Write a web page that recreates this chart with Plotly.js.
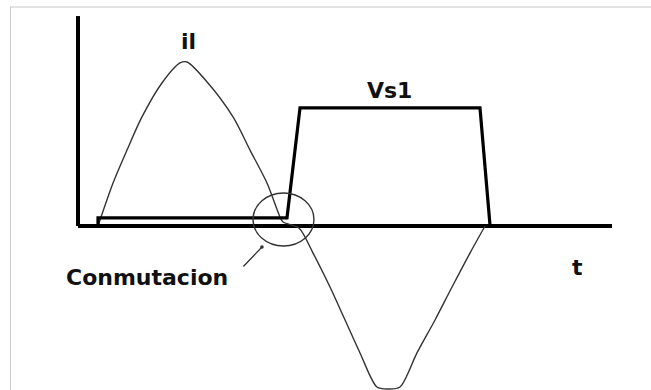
<!DOCTYPE html>
<html>
<head>
<meta charset="utf-8">
<script src="https://cdn.plot.ly/plotly-3.0.1.min.js"></script>
<style>
  html, body { margin: 0; padding: 0; background: #fff; }
  #chart { width: 651px; height: 390px; }
</style>
</head>
<body>
<div id="chart"></div>
<script>
// Angle (degrees of one period) and normalized amplitude
var ilAngle = [0, 14.0, 27.0, 40.9, 59.5, 76.3, 82.8, 102.3, 125.6, 141.4, 157.2, 169.3, 172.1, 186.9,
               200, 215.8, 229.8, 243.7, 259.5, 269.8, 280.9, 296.7, 313.5, 329.3, 346, 360];
var ilValue = [0, 0.262, 0.463, 0.665, 0.872, 0.994, 1.0, 0.872, 0.665, 0.463, 0.262, 0.055, 0.024, -0.012,
               -0.165, -0.372, -0.573, -0.774, -0.982, -0.994, -0.982, -0.774, -0.573, -0.372, -0.165, 0];

var vsAngle = [0, 0, 175.8, 187.9, 355.3, 364.7];
var vsValue = [0, 0.05, 0.05, 0.72, 0.72, 0];

var axisTop = 1.28;            // top of the drawn vertical axis
var commCircle = {x0: 144.2, x1: 200.9, y0: -0.122, y1: 0.201};

var labels = [
  {text: 'il', x: 84.6, y: 1.128},
  {text: 'Vs1', x: 271.6, y: 0.829},
  {text: 'Conmutacion', x: 45.6, y: -0.317},
  {text: 't', x: 445.6, y: -0.25}
];

var traces = [
  {x: ilAngle, y: ilValue, type: 'scatter', mode: 'lines',
   line: {color: '#333333', width: 1.4, shape: 'spline', smoothing: 0.8},
   hoverinfo: 'skip', showlegend: false},
  {x: vsAngle, y: vsValue, type: 'scatter', mode: 'lines',
   line: {color: '#000000', width: 3.2},
   hoverinfo: 'skip', showlegend: false}
];

var annotations = labels.map(function (l) {
  return {text: '<b>' + l.text + '</b>', x: l.x, y: l.y, xref: 'x', yref: 'y',
          showarrow: false, xanchor: 'center', yanchor: 'middle',
          font: {family: 'DejaVu Sans', size: 22, color: '#111111'}};
});
// pointer from label to commutation circle
annotations.push({text: '', x: 152.5, y: -0.128, xref: 'x', yref: 'y',
                  showarrow: true, ax: -20, ay: 21, arrowhead: 6, arrowsize: 0.7,
                  arrowwidth: 1.3, arrowcolor: '#333333'});

var layout = {
  width: 651, height: 390,
  margin: {l: 78, r: 39, t: 0, b: 0, pad: 0},
  paper_bgcolor: '#ffffff', plot_bgcolor: '#ffffff',
  showlegend: false,
  xaxis: {range: [-18.6, 478.1], showgrid: false, zeroline: false, showticklabels: false,
          ticks: '', showline: false, fixedrange: true},
  yaxis: {range: [-1.0, 1.378], showgrid: false, zeroline: true, zerolinecolor: '#000000',
          zerolinewidth: 4, showticklabels: false, ticks: '', showline: false, fixedrange: true},
  shapes: [
    // light frame of the picture
    {type: 'line', xref: 'paper', yref: 'paper', x0: -0.1273, x1: 1.08, y0: 0.982, y1: 0.982,
     line: {color: '#c8c8c8', width: 1}},
    {type: 'line', xref: 'paper', yref: 'paper', x0: -0.1264, x1: -0.1264, y0: -0.01, y1: 0.982,
     line: {color: '#c8c8c8', width: 1}},
    // vertical axis
    {type: 'line', xref: 'paper', yref: 'y', x0: 0, x1: 0, y0: 0, y1: axisTop,
     line: {color: '#000000', width: 4}},
    // commutation circle
    {type: 'circle', xref: 'x', yref: 'y', x0: commCircle.x0, x1: commCircle.x1,
     y0: commCircle.y0, y1: commCircle.y1, line: {color: '#333333', width: 1.4}}
  ],
  annotations: annotations
};

Plotly.newPlot('chart', traces, layout, {displayModeBar: false, staticPlot: true});
</script>
</body>
</html>
